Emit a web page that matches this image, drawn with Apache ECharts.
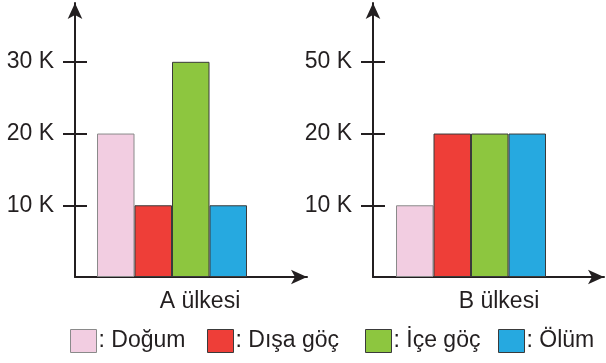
<!DOCTYPE html>
<html>
<head>
<meta charset="utf-8">
<script src="https://cdn.jsdelivr.net/npm/echarts@6/dist/echarts.min.js"></script>
<style>html,body{margin:0;padding:0;background:#fff}#c{width:606px;height:363px}</style>
</head>
<body>
<div id="c"></div>
<script>
const categoriesA = ['A ülkesi'];
const categoriesB = ['B ülkesi'];
const seriesNames = ['Doğum', 'Dışa göç', 'İçe göç', 'Ölüm'];
const valuesA = [20, 10, 30, 10];
const valuesB = [10, 20, 20, 20];
const tickValues = [10, 20, 30];
const tickLabelsA = ['10 K', '20 K', '30 K'];
const tickLabelsB = ['10 K', '20 K', '50 K'];

const colors = ['#f2cde1', '#ee3e38', '#8dc63f', '#26a9e0'];
const borders = ['#8a8a8a', '#3a3a3a', '#3a3a3a', '#3a3a3a'];
const ink = '#231f20';
const font = 'Liberation Sans, Arial, sans-serif';
const yMax = 38.2;
const legendLeft = [70, 207, 365, 498];

function yAxes(grid, labels) {
  return [{
    type: 'value', gridIndex: grid, min: 0, max: yMax,
    axisLine: { show: true, lineStyle: { color: ink, width: 2 }, symbol: ['none', 'arrow'], symbolSize: [11, 16] },
    axisTick: { show: true, length: 12, lineStyle: { color: ink, width: 2 }, customValues: tickValues },
    axisLabel: { show: true, margin: 21, fontSize: 23, color: ink, fontFamily: font, customValues: tickValues,
      formatter: v => labels[tickValues.indexOf(v)] || '' },
    splitLine: { show: false }
  }, {
    type: 'value', gridIndex: grid, min: 0, max: yMax, position: 'left',
    axisLine: { show: false },
    axisTick: { show: true, inside: true, length: 12, lineStyle: { color: ink, width: 2 }, customValues: tickValues },
    axisLabel: { show: false },
    splitLine: { show: false }
  }];
}

function xAxis(grid, cats, pad) {
  return {
    type: 'category', gridIndex: grid, data: cats,
    axisLine: { show: true, onZero: false, lineStyle: { color: ink, width: 2 }, symbol: ['none', 'arrow'], symbolSize: [11, 16] },
    axisTick: { show: false },
    axisLabel: { fontSize: 23, color: ink, fontFamily: font, margin: 13, padding: [0, 0, 0, pad] }
  };
}

const series = [];
[[valuesA, 0, 0, 38], [valuesB, 1, 2, 35]].forEach(([vals, xi, yi, dummyW]) => {
  seriesNames.forEach((n, i) => {
    series.push({
      name: n, type: 'bar', xAxisIndex: xi, yAxisIndex: yi,
      data: [vals[i]], barWidth: 37.5, barGap: '0%',
      itemStyle: { color: colors[i], borderColor: borders[i], borderWidth: 1 },
      emphasis: { disabled: true }
    });
  });
  series.push({ name: '_pad' + xi, type: 'bar', xAxisIndex: xi, yAxisIndex: yi, data: ['-'], barWidth: dummyW, barGap: '0%', silent: true });
});

const legends = seriesNames.map((n, i) => ({
  data: [{ name: n, itemStyle: { color: colors[i], borderColor: borders[i], borderWidth: 1 } }],
  left: legendLeft[i], top: 329, padding: 0, icon: 'rect', itemWidth: 26, itemHeight: 23,
  formatter: ': {name}', selectedMode: false,
  textStyle: { fontSize: 23, color: ink, fontFamily: font, padding: [0, 0, 0, -3] }
}));

const chart = echarts.init(document.getElementById('c'), null, { renderer: 'canvas' });
chart.setOption({
  animation: false,
  textStyle: { fontFamily: font },
  grid: [
    { left: 75, right: 299, top: 3, bottom: 86 },
    { left: 373, right: 2, top: 3, bottom: 86 }
  ],
  xAxis: [xAxis(0, categoriesA, 18), xAxis(1, categoriesB, 21)],
  yAxis: [...yAxes(0, tickLabelsA), ...yAxes(1, tickLabelsB)],
  legend: legends,
  series: series
});
</script>
</body>
</html>
